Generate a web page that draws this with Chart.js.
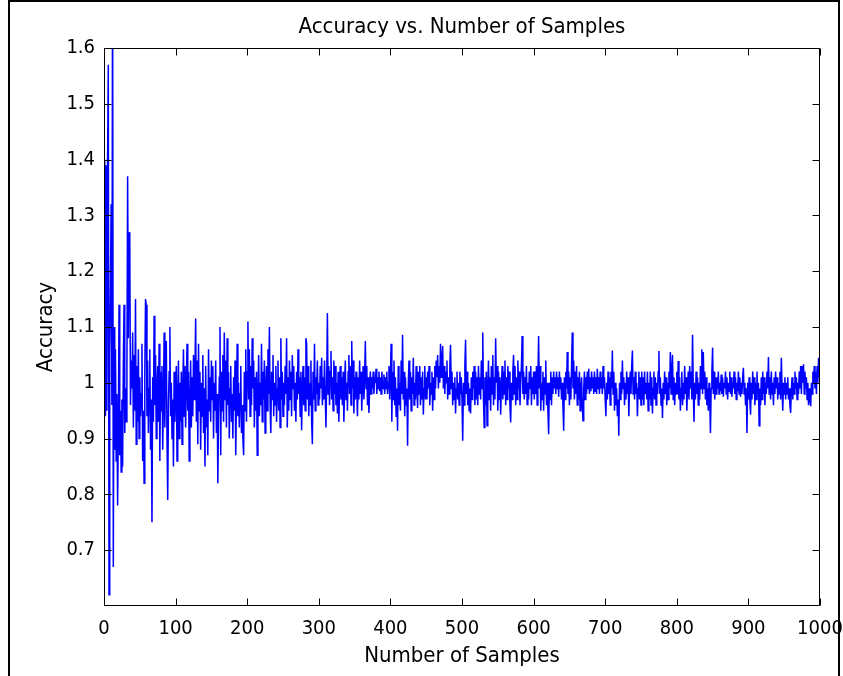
<!DOCTYPE html>
<html>
<head>
<meta charset="utf-8">
<title>Accuracy vs. Number of Samples</title>
<script src="https://cdn.jsdelivr.net/npm/chart.js@4.4.1/dist/chart.umd.min.js"></script>
<style>
  html, body { margin: 0; padding: 0; background: #fff; }
  #wrap { width: 843px; height: 676px; }
</style>
</head>
<body>
<div id="wrap"><canvas id="chart" width="843" height="676"></canvas></div>
<script>
// tick labels
var xTicks = [0, 100, 200, 300, 400, 500, 600, 700, 800, 900, 1000];
var yTicks = [0.7, 0.8, 0.9, 1, 1.1, 1.2, 1.3, 1.4, 1.5, 1.6];
var titleText = "Accuracy vs. Number of Samples";

// accuracy for sample 1..1000
var accuracy = [
  1.40, 0.94, 1.39, 0.95, 1.40, 1.57, 0.62, 1.05, 1.18, 1.32, 0.96, 1.78, 0.67, 1.10, 0.88, 1.06, 0.86, 0.98, 0.78, 0.91,
  1.14, 0.87, 0.95, 0.84, 0.97, 0.85, 1.03, 1.14, 0.91, 0.99, 0.93, 1.02, 1.37, 1.08, 1.27, 1.25, 0.96, 1.04, 0.99, 1.09,
  0.92, 1.05, 0.95, 1.15, 0.89, 1.03, 0.93, 1.06, 0.90, 1.01, 0.94, 0.98, 1.07, 0.86, 0.95, 0.82, 1.02, 1.15, 1.14, 0.94,
  1.04, 0.91, 0.99, 1.06, 0.88, 0.97, 0.75, 1.01, 0.93, 1.12, 0.96, 1.05, 0.90, 0.99, 1.03, 0.93, 1.07, 0.86, 1.02, 0.95,
  1.03, 0.88, 0.97, 1.09, 0.92, 1.05, 1.075, 0.90, 0.79, 0.96, 1.02, 1.10, 0.94, 1.00, 0.90, 0.97, 0.85, 1.02, 0.93, 0.98,
  1.03, 0.86, 0.97, 1.04, 0.90, 1.00, 0.93, 1.02, 0.89, 0.99, 1.06, 0.94, 1.03, 0.92, 1.00, 1.07, 0.95, 1.02, 0.86, 0.96,
  1.04, 0.92, 1.01, 0.94, 1.05, 0.97, 1.02, 1.115, 0.93, 1.04, 0.89, 1.07, 0.95, 1.02, 0.88, 1.00, 0.94, 1.05, 0.91, 0.99,
  0.85, 1.03, 0.92, 0.97, 0.87, 1.06, 0.95, 1.01, 0.93, 1.04, 0.97, 1.03, 0.90, 1.00, 0.95, 1.04, 0.91, 0.98, 0.82, 0.94,
  1.01, 1.10, 0.87, 1.02, 0.95, 1.05, 0.93, 1.09, 0.97, 1.04, 0.92, 1.08, 0.96, 1.02, 0.90, 0.99, 1.03, 0.93, 0.98, 0.90,
  1.01, 0.95, 1.04, 0.87, 0.97, 1.07, 0.94, 1.00, 0.92, 0.98, 1.03, 0.91, 0.96, 0.90, 0.87, 1.02, 0.95, 1.06, 0.93, 1.02,
  1.11, 0.97, 1.06, 0.94, 1.03, 0.96, 1.08, 0.99, 1.04, 0.92, 1.01, 0.95, 1.02, 0.87, 0.98, 1.05, 0.94, 1.00, 0.96, 1.07,
  0.93, 1.02, 0.97, 1.04, 0.91, 0.99, 1.03, 0.95, 1.06, 0.98, 1.10, 0.96, 0.91, 1.02, 0.97, 1.05, 0.94, 1.00, 0.96, 1.03,
  0.93, 0.99, 1.04, 0.95, 1.01, 0.92, 1.08, 0.97, 1.02, 0.94, 1.00, 0.96, 1.03, 0.98, 1.08, 0.92, 1.01, 0.95, 1.04, 0.97,
  1.02, 0.94, 1.05, 0.99, 1.03, 0.95, 1.00, 0.93, 1.02, 0.97, 1.06, 0.98, 1.01, 0.94, 1.02, 0.915, 0.99, 1.03, 0.96, 1.01,
  0.95, 1.08, 1.07, 0.97, 1.03, 0.94, 1.00, 0.96, 1.04, 0.93, 0.89, 1.02, 0.97, 1.07, 0.95, 1.01, 0.98, 1.04, 0.96, 1.00,
  0.97, 1.03, 0.99, 1.045, 0.96, 1.01, 0.97, 1.04, 0.98, 0.92, 1.00, 1.125, 0.98, 1.03, 0.96, 1.02, 1.057, 0.97, 1.01, 0.95,
  1.04, 0.98, 1.03, 0.96, 1.00, 0.945, 1.02, 0.93, 0.99, 1.03, 0.97, 1.01, 0.96, 1.02, 0.93, 0.99, 1.04, 0.97, 1.00, 0.95,
  1.02, 1.05, 0.98, 1.03, 0.96, 1.075, 0.99, 1.04, 0.945, 1.01, 0.97, 1.02, 0.99, 0.94, 1.01, 0.97, 1.04, 0.98, 1.02, 0.95,
  1.00, 1.03, 0.97, 1.01, 1.075, 0.99, 1.03, 0.96, 1.01, 0.946, 0.99, 1.02, 0.98, 1.01, 0.99, 1.02, 0.98, 1.01, 1.00, 1.025,
  0.98, 1.01, 0.99, 1.02, 0.985, 1.01, 0.98, 1.02, 1.00, 0.99, 1.015, 0.98, 1.01, 0.99, 1.02, 0.98, 1.00, 1.03, 0.97, 1.01,
  1.07, 0.93, 1.02, 0.97, 1.04, 0.96, 1.01, 0.94, 0.99, 0.914, 1.03, 0.96, 1.00, 0.95, 1.04, 0.98, 1.086, 0.97, 1.02, 0.94,
  1.01, 0.96, 0.99, 0.887, 1.00, 1.04, 0.97, 1.02, 0.95, 1.01, 0.98, 1.045, 0.96, 1.00, 0.97, 1.03, 0.99, 0.955, 1.02, 0.98,
  1.03, 0.96, 1.01, 0.97, 1.02, 0.943, 0.99, 1.03, 0.97, 1.01, 0.97, 1.02, 0.99, 1.03, 0.96, 1.00, 0.98, 1.02, 0.95, 1.01,
  0.97, 1.03, 0.99, 1.04, 1.01, 1.05, 0.99, 1.03, 1.00, 1.07, 1.01, 1.04, 1.066, 0.99, 1.03, 0.98, 1.02, 1.00, 1.04, 0.97,
  1.01, 0.98, 1.03, 1.068, 0.99, 1.02, 0.96, 1.00, 0.97, 1.01, 0.945, 0.99, 1.02, 0.97, 1.00, 0.96, 1.02, 0.98, 1.01, 0.97,
  0.896, 1.00, 0.96, 1.03, 1.077, 0.98, 1.02, 0.96, 1.00, 0.95, 0.99, 0.945, 1.01, 0.97, 1.02, 0.99, 1.03, 0.96, 1.02, 0.97,
  1.01, 0.96, 1.03, 0.98, 1.01, 0.97, 1.04, 0.99, 1.09, 0.97, 0.92, 1.01, 0.96, 1.02, 0.923, 0.99, 1.04, 0.97, 1.01, 0.95,
  1.03, 0.98, 1.05, 0.96, 1.01, 0.97, 1.08, 1.00, 1.03, 0.95, 1.02, 0.97, 1.01, 0.943, 0.99, 1.03, 0.97, 1.02, 0.98, 1.04,
  0.96, 1.01, 0.97, 1.03, 0.99, 1.02, 0.96, 0.929, 1.00, 0.97, 1.02, 1.05, 0.98, 1.03, 0.96, 1.01, 0.97, 1.04, 0.99, 1.02,
  0.96, 1.00, 1.03, 1.084, 0.98, 1.02, 0.97, 1.01, 0.98, 1.03, 0.961, 1.00, 0.97, 1.02, 0.99, 1.03, 0.96, 1.01, 0.98, 1.02,
  0.97, 1.02, 0.98, 1.03, 0.96, 1.01, 1.084, 0.99, 1.03, 0.95, 1.00, 0.97, 1.02, 0.95, 1.01, 0.98, 1.04, 0.96, 1.00, 0.95,
  0.908, 1.00, 0.97, 1.02, 0.96, 1.01, 0.98, 1.02, 0.99, 1.01, 0.98, 1.02, 0.99, 1.01, 0.975, 1.02, 0.99, 1.01, 0.97, 1.00,
  0.96, 0.914, 1.01, 0.97, 1.02, 0.99, 1.055, 0.98, 1.02, 0.96, 1.01, 0.97, 1.03, 1.09, 0.99, 1.04, 0.97, 1.02, 0.98, 1.03,
  0.96, 1.01, 0.97, 1.02, 0.95, 0.99, 1.01, 0.96, 0.932, 0.99, 1.02, 0.97, 1.01, 0.98, 1.02, 0.99, 1.025, 0.98, 1.01, 0.985,
  1.02, 0.99, 1.01, 0.98, 1.02, 0.985, 1.01, 0.98, 1.025, 0.99, 1.01, 0.98, 1.02, 0.99, 1.01, 0.98, 1.03, 0.99, 1.01, 0.97,
  0.94, 1.00, 0.97, 1.02, 0.98, 1.01, 0.96, 1.02, 0.99, 1.058, 0.98, 1.02, 0.95, 1.00, 0.96, 0.99, 0.94, 0.97, 0.905, 1.00,
  0.97, 1.02, 0.98, 1.04, 0.99, 1.01, 0.96, 1.00, 0.97, 1.02, 0.98, 1.01, 0.94, 0.99, 1.02, 0.98, 1.03, 1.058, 0.98, 1.01,
  0.97, 1.02, 0.98, 1.00, 0.94, 0.99, 1.02, 0.97, 1.01, 0.96, 1.02, 0.97, 1.01, 0.96, 1.02, 0.98, 1.00, 0.97, 1.02, 0.95,
  1.00, 0.97, 1.02, 0.96, 1.01, 0.945, 0.99, 1.02, 0.97, 1.01, 0.96, 1.00, 0.98, 1.02, 1.057, 0.98, 1.01, 0.96, 0.99, 0.937,
  1.00, 0.97, 1.02, 0.98, 1.01, 0.96, 1.00, 0.97, 1.02, 0.99, 1.055, 0.98, 1.02, 1.05, 0.97, 1.01, 0.96, 1.00, 0.98, 1.02,
  0.98, 1.039, 0.97, 1.01, 0.95, 0.99, 1.02, 0.96, 1.00, 0.97, 1.03, 0.98, 1.01, 0.95, 0.99, 1.02, 0.97, 1.03, 0.99, 1.02,
  0.97, 1.086, 0.99, 0.93, 1.00, 0.97, 1.02, 0.98, 1.01, 0.96, 1.00, 0.97, 1.03, 0.99, 1.06, 0.98, 1.055, 0.99, 1.02, 0.97,
  1.01, 0.96, 0.99, 0.95, 1.00, 0.97, 0.91, 0.99, 1.02, 1.063, 0.98, 1.02, 0.97, 1.01, 0.98, 1.01, 0.99, 1.02, 0.98, 1.00,
  0.985, 1.015, 0.98, 1.01, 0.975, 1.00, 0.99, 1.02, 0.98, 1.01, 0.97, 1.00, 0.985, 1.02, 0.98, 1.01, 0.975, 1.00, 0.99, 1.02,
  0.98, 1.01, 0.97, 1.00, 0.985, 1.02, 0.98, 1.01, 0.975, 1.00, 0.98, 1.01, 1.027, 0.98, 1.00, 0.96, 0.99, 0.91, 1.00, 0.97,
  1.01, 0.97, 0.943, 1.00, 0.97, 1.02, 0.98, 1.01, 0.96, 1.00, 0.97, 1.02, 0.98, 1.00, 0.923, 0.99, 0.96, 1.01, 0.97, 1.02,
  0.98, 1.01, 0.96, 1.00, 0.98, 1.02, 0.99, 1.046, 0.98, 1.01, 0.97, 1.02, 0.98, 1.00, 0.96, 1.01, 0.98, 1.02, 0.99, 1.01,
  0.97, 1.00, 0.98, 1.02, 0.97, 1.045, 0.99, 0.95, 1.00, 0.98, 1.01, 0.97, 1.00, 0.98, 1.01, 0.97, 0.99, 0.96, 0.946, 0.99,
  1.01, 0.97, 1.00, 0.98, 1.02, 0.99, 1.01, 0.97, 1.00, 0.98, 1.02, 0.99, 1.03, 0.98, 1.03, 1.00, 1.033, 0.98, 1.02, 0.99,
  1.01, 0.97, 1.00, 0.96, 0.99, 0.97, 0.958, 1.00, 0.98, 1.02, 1.00, 1.03, 0.99, 1.02, 0.98, 1.03, 1.00, 1.045, 1.01, 1.03
];

var FONT = "'Liberation Sans Narrow', 'DejaVu Sans Condensed', 'Liberation Sans', Arial, sans-serif";

// MATLAB style box with inward ticks, title and the figure frame
var matlabBox = {
  id: "matlabBox",
  beforeDraw: function (chart) {
    var ctx = chart.ctx;
    ctx.save();
    ctx.fillStyle = "#fff";
    ctx.fillRect(0, 0, chart.width, chart.height);
    ctx.restore();
  },
  afterDatasetsDraw: function (chart) {
    var ctx = chart.ctx;
    var a = chart.chartArea;
    var xs = chart.scales.x;
    var ys = chart.scales.y;
    var len = 7;
    ctx.save();
    ctx.strokeStyle = "#000";
    ctx.lineWidth = 1;
    ctx.beginPath();
    var l = Math.round(a.left) + 0.5, r = Math.round(a.right) - 0.5;
    var t = Math.round(a.top) + 0.5, b = Math.round(a.bottom) - 0.5;
    ctx.rect(l, t, r - l, b - t);
    xTicks.forEach(function (v) {
      var px = Math.round(xs.getPixelForValue(v)) + 0.5;
      ctx.moveTo(px, b); ctx.lineTo(px, b - len);
      ctx.moveTo(px, t); ctx.lineTo(px, t + len);
    });
    yTicks.forEach(function (v) {
      var py = Math.round(ys.getPixelForValue(v)) + 0.5;
      ctx.moveTo(l, py); ctx.lineTo(l + len, py);
      ctx.moveTo(r, py); ctx.lineTo(r - len, py);
    });
    ctx.stroke();

    // title, centred over the axes
    ctx.fillStyle = "#000";
    ctx.font = "22px " + FONT;
    ctx.textAlign = "center";
    ctx.textBaseline = "middle";
    ctx.fillText(titleText, (a.left + a.right) / 2, 27);

    // outer frame of the figure
    ctx.lineWidth = 2;
    ctx.beginPath();
    ctx.moveTo(9, 676); ctx.lineTo(9, 1); ctx.lineTo(839, 1); ctx.lineTo(839, 676);
    ctx.stroke();
    ctx.restore();
  }
};

var ctx = document.getElementById("chart");
var chart = new Chart(ctx, {
  type: "line",
  data: {
    datasets: [
      {
        label: "Accuracy",
        data: accuracy.map(function (v, i) { return { x: i + 1, y: v }; }),
        borderColor: "#0000ff",
        borderWidth: 1.5,
        pointRadius: 0,
        tension: 0,
        fill: false,
      },
    ],
  },
  options: {
    responsive: false,
    animation: false,
    events: [],
    layout: { padding: { left: 0, right: 23, top: 48, bottom: 0 } },
    plugins: {
      legend: { display: false },
      tooltip: { enabled: false },
      title: { display: false },
    },
    scales: {
      x: {
        type: "linear",
        min: 0,
        max: 1000,
        afterBuildTicks: function (s) {
          s.ticks = xTicks.map(function (v) { return { value: v }; });
        },
        afterFit: function (s) {
          s.height = 70;
          s.paddingLeft = 0;
          s.paddingRight = 0;
        },
        grid: { display: false, drawTicks: false },
        border: { display: false },
        ticks: {
          color: "#000",
          padding: 11,
          maxRotation: 0,
          autoSkip: false,
          font: { family: FONT, size: 20 },
          callback: function (v) { return String(v); },
        },
        title: {
          display: true,
          text: "Number of Samples",
          color: "#000",
          font: { family: FONT, size: 22 },
          padding: { top: 0, bottom: 7 },
        },
      },
      y: {
        type: "linear",
        min: 0.6,
        max: 1.6,
        afterBuildTicks: function (s) {
          s.ticks = yTicks.map(function (v) { return { value: v }; });
        },
        afterFit: function (s) {
          s.width = 104;
          s.paddingTop = 0;
          s.paddingBottom = 0;
        },
        grid: { display: false, drawTicks: false },
        border: { display: false },
        ticks: {
          color: "#000",
          padding: 9,
          autoSkip: false,
          font: { family: FONT, size: 20 },
          callback: function (v) { return String(v); },
        },
        title: {
          display: true,
          text: "Accuracy",
          color: "#000",
          font: { family: FONT, size: 22 },
          padding: { top: 33, bottom: 0 },
        },
      },
    },
  },
  plugins: [matlabBox],
});
</script>
</body>
</html>
